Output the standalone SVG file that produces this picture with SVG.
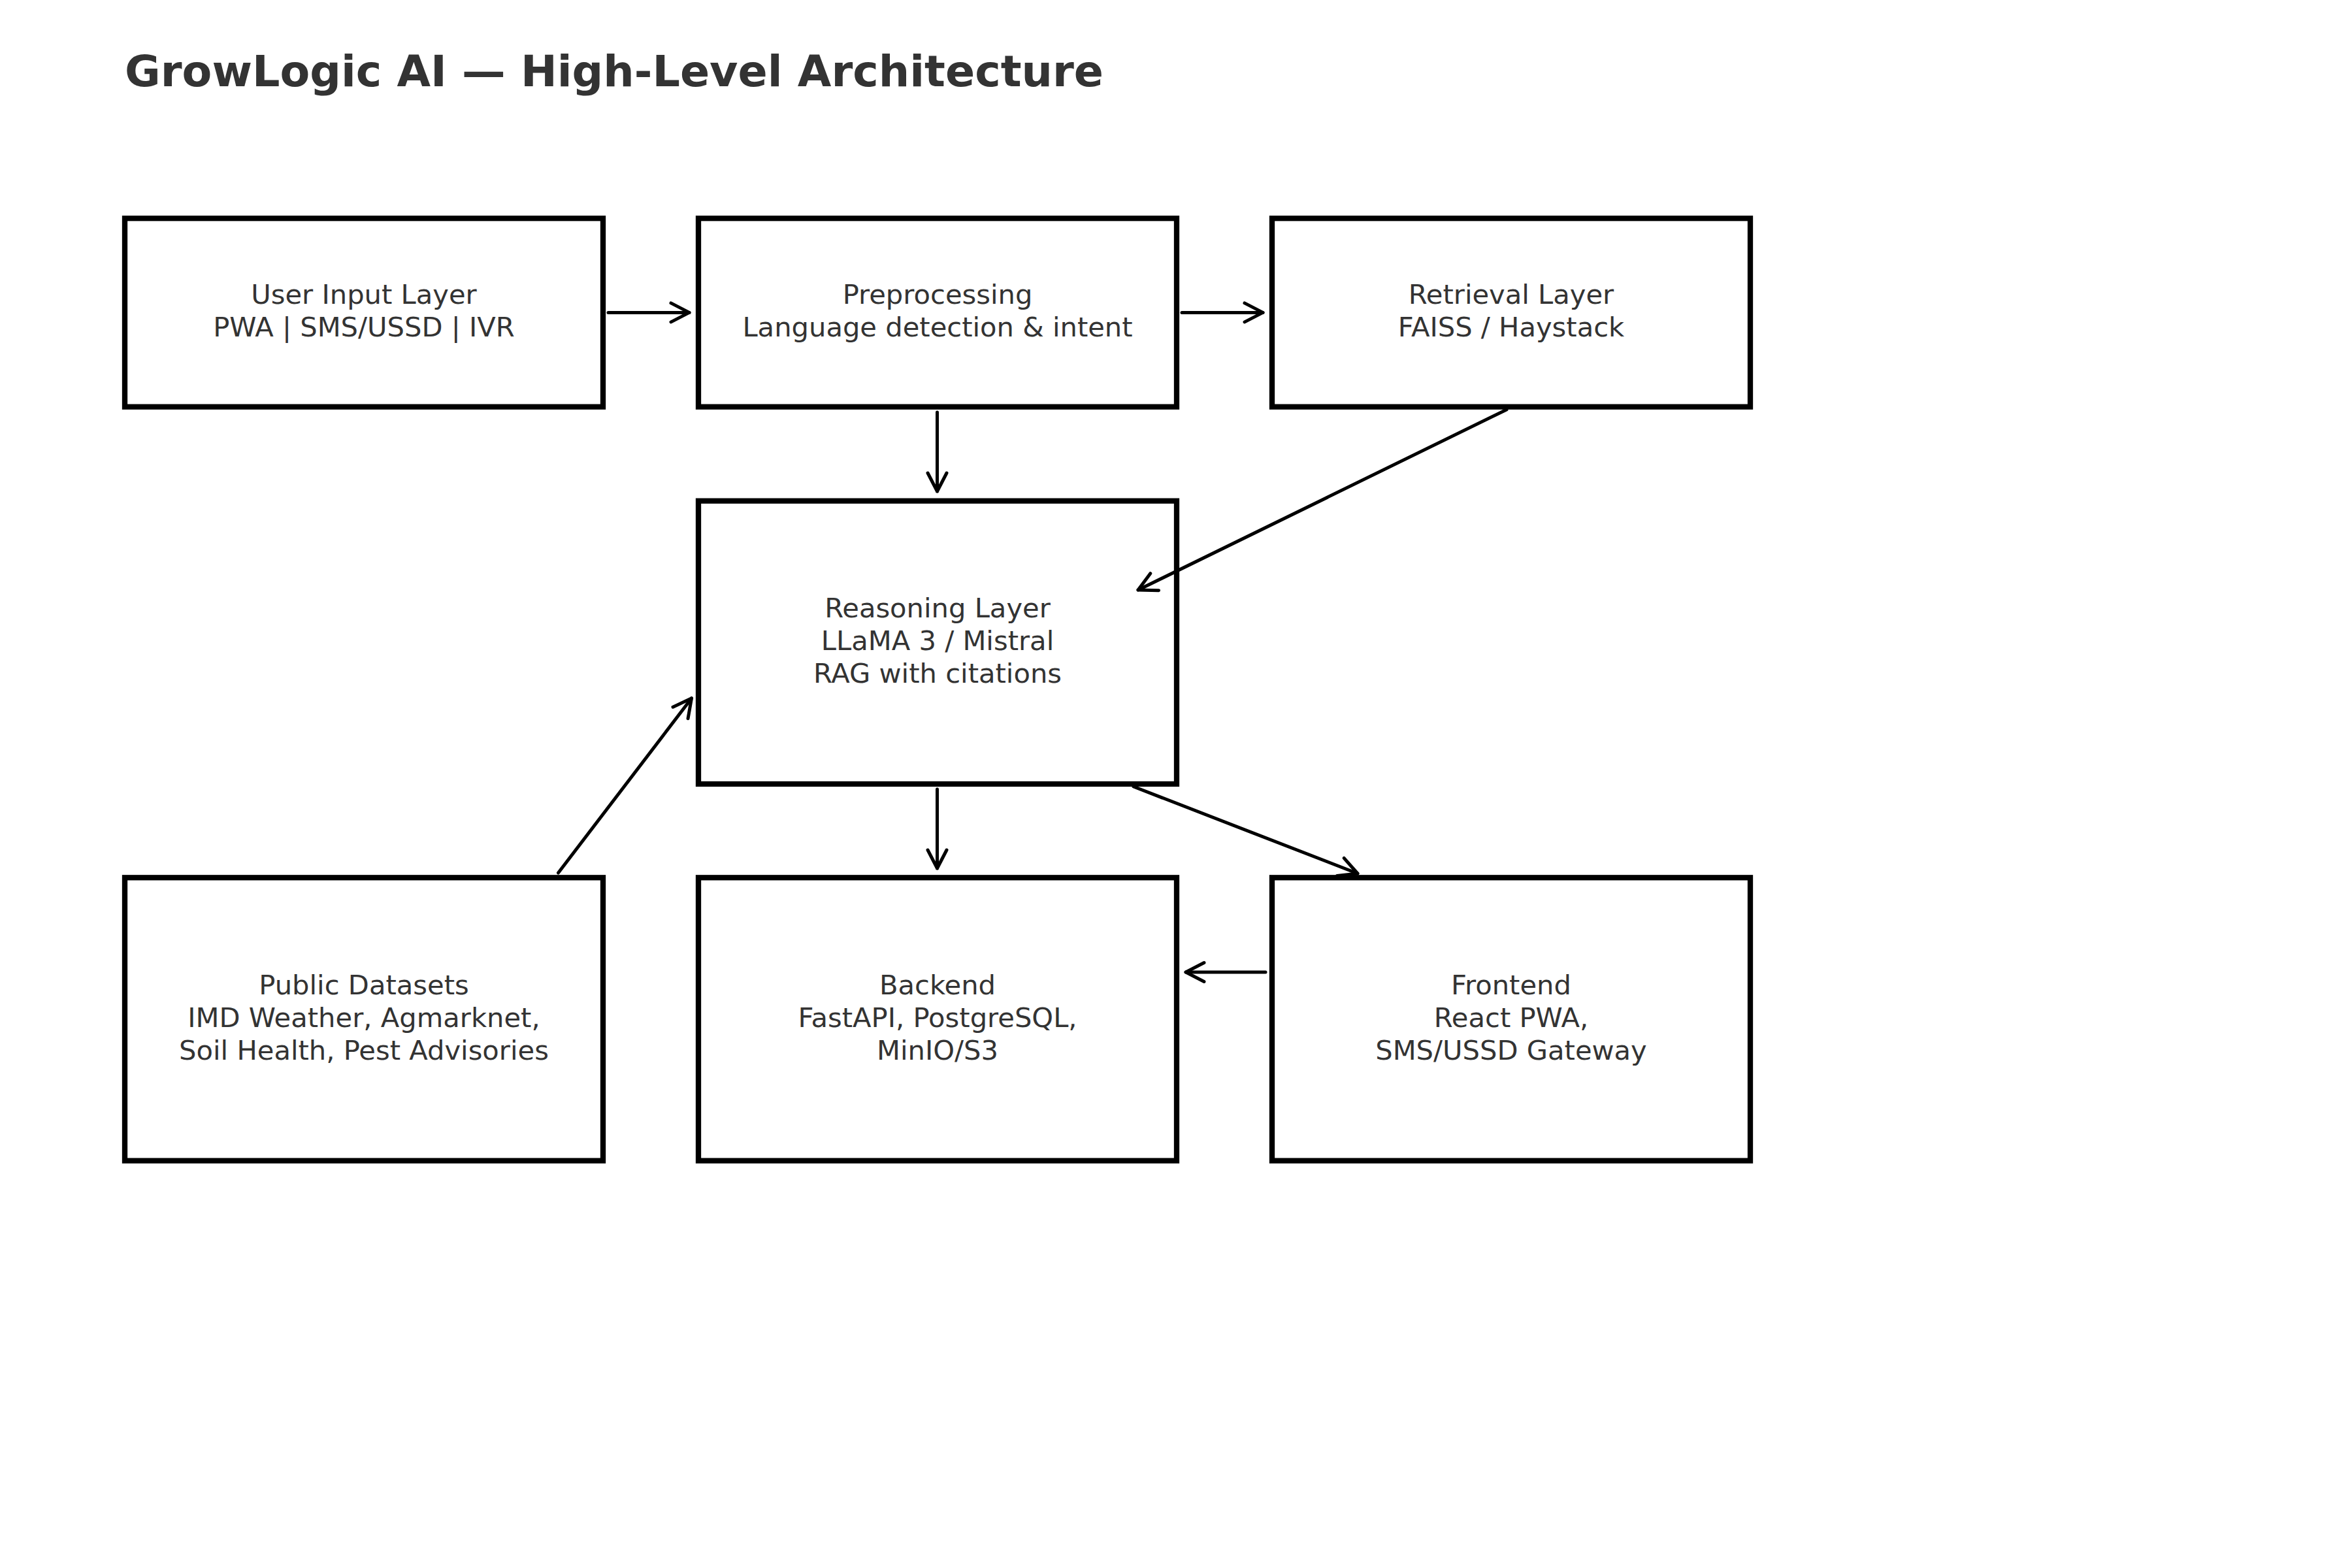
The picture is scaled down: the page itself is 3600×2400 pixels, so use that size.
<svg xmlns="http://www.w3.org/2000/svg" width="3600" height="2400" viewBox="0 0 3600 2400">
  <style>
    .box { fill: #ffffff; stroke: #000000; stroke-width: 8.3; }
    .lbl { font-family: "DejaVu Sans", "Liberation Sans", sans-serif; font-size: 41.67px; fill: #333333; text-anchor: middle; }
    .title { font-family: "DejaVu Sans", "Liberation Sans", sans-serif; font-size: 66.67px; font-weight: bold; fill: #333333; }
    .edge { fill: none; stroke: #000000; stroke-width: 5; stroke-linecap: round; marker-end: url(#arrow); }
  </style>
  <defs>
    <marker id="arrow" markerUnits="userSpaceOnUse" orient="auto" refX="0" refY="0" markerWidth="40" markerHeight="40" viewBox="-35 -20 40 40" overflow="visible">
      <path d="M -28 -14.5 L 0 0 L -28 14.5" fill="none" stroke="#000000" stroke-width="5" stroke-linecap="round" stroke-linejoin="round"/>
    </marker>
  </defs>
  <rect width="3600" height="2400" fill="#ffffff"/>
  <text class="title" x="191" y="131.7">GrowLogic AI — High-Level Architecture</text>

  <g id="user-input">
    <rect class="box" x="191" y="334.2" width="732" height="288.5"/>
    <text class="lbl" x="557" y="465">User Input Layer</text>
    <text class="lbl" x="557" y="515">PWA | SMS/USSD | IVR</text>
  </g>
  <g id="preprocessing">
    <rect class="box" x="1069" y="334.2" width="732" height="288.5"/>
    <text class="lbl" x="1435" y="465">Preprocessing</text>
    <text class="lbl" x="1435" y="515">Language detection &amp; intent</text>
  </g>
  <g id="retrieval">
    <rect class="box" x="1947" y="334.2" width="732" height="288.5"/>
    <text class="lbl" x="2313" y="465">Retrieval Layer</text>
    <text class="lbl" x="2313" y="515">FAISS / Haystack</text>
  </g>
  <g id="reasoning">
    <rect class="box" x="1069" y="766.7" width="732" height="433.3"/>
    <text class="lbl" x="1435" y="945">Reasoning Layer</text>
    <text class="lbl" x="1435" y="995">LLaMA 3 / Mistral</text>
    <text class="lbl" x="1435" y="1045">RAG with citations</text>
  </g>
  <g id="public-datasets">
    <rect class="box" x="191" y="1343.3" width="732" height="433.3"/>
    <text class="lbl" x="557" y="1522">Public Datasets</text>
    <text class="lbl" x="557" y="1572">IMD Weather, Agmarknet,</text>
    <text class="lbl" x="557" y="1622">Soil Health, Pest Advisories</text>
  </g>
  <g id="backend">
    <rect class="box" x="1069" y="1343.3" width="732" height="433.3"/>
    <text class="lbl" x="1435" y="1522">Backend</text>
    <text class="lbl" x="1435" y="1572">FastAPI, PostgreSQL,</text>
    <text class="lbl" x="1435" y="1622">MinIO/S3</text>
  </g>
  <g id="frontend">
    <rect class="box" x="1947" y="1343.3" width="732" height="433.3"/>
    <text class="lbl" x="2313" y="1522">Frontend</text>
    <text class="lbl" x="2313" y="1572">React PWA,</text>
    <text class="lbl" x="2313" y="1622">SMS/USSD Gateway</text>
  </g>

  <g id="connectors">
    <path class="edge" d="M 931 478.4 L 1055 478.4"/>
    <path class="edge" d="M 1809 478.4 L 1933 478.4"/>
    <path class="edge" d="M 1434.5 631 L 1434.5 752"/>
    <path class="edge" d="M 2306 627 L 1742 903"/>
    <path class="edge" d="M 854.5 1336 L 1058.5 1068.7"/>
    <path class="edge" d="M 1434.5 1208 L 1434.5 1329"/>
    <path class="edge" d="M 1735 1204 L 2078 1337"/>
    <path class="edge" d="M 1937 1488 L 1815 1488"/>
  </g>
</svg>
